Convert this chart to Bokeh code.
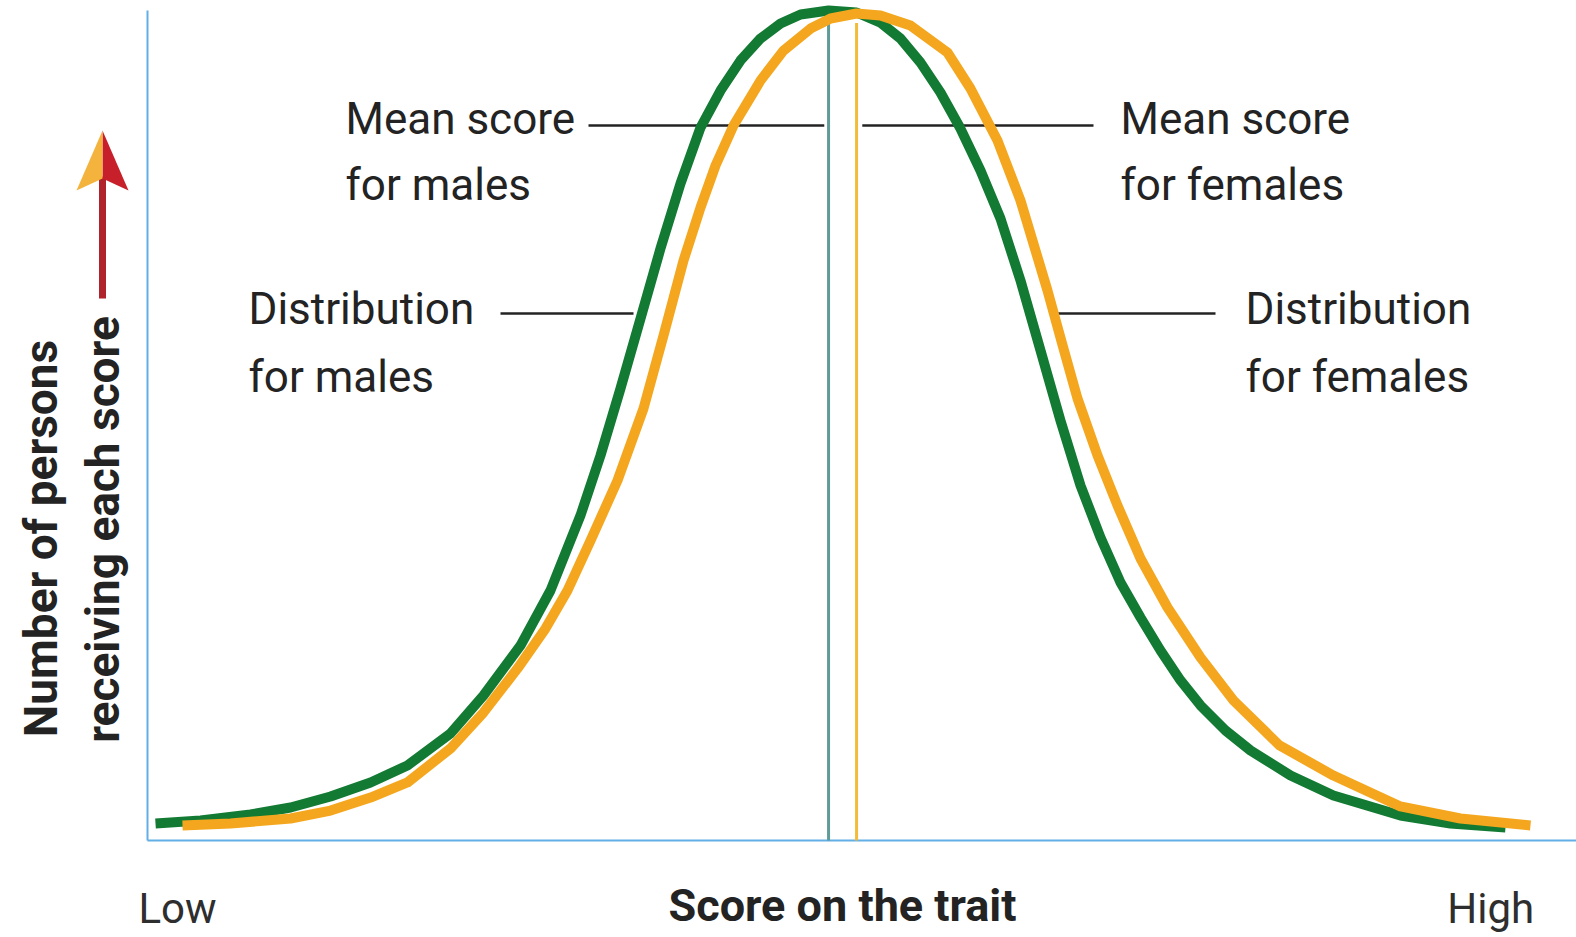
import math
from bokeh.plotting import figure
from bokeh.models import Range1d, Label, Arrow, PolyAnnotation
from bokeh.embed import file_html
from bokeh.resources import INLINE

# ---- data (score 0-100, number of persons 0-100) ----
male_score = [0.56, 3.71, 7.21, 10.01, 12.81, 15.61, 18.19, 21.20, 23.51, 26.10, 28.20,
              30.30, 31.70, 33.10, 34.50, 35.90, 37.30, 38.70, 40.10, 41.50, 42.90,
              44.30, 45.70, 47.66, 49.62, 51.29, 52.69, 54.09, 55.49, 56.89, 58.29,
              59.69, 61.09, 62.49, 63.89, 65.29, 66.69, 68.09, 69.49, 70.89, 72.29,
              73.69, 75.44, 77.19, 79.99, 82.99, 87.68, 91.18, 95.03]
male_count = [2.05, 2.41, 3.13, 3.98, 5.30, 6.99, 9.04, 12.89, 17.47, 23.49, 30.12,
              39.16, 46.39, 54.46, 62.89, 71.33, 79.16, 85.90, 90.36, 93.98, 96.63,
              98.43, 99.52, 100.0, 99.76, 98.55, 96.63, 93.73, 90.12, 85.78, 80.72,
              74.94, 67.47, 59.04, 50.60, 42.77, 36.51, 31.08, 26.87, 22.89, 19.28,
              16.27, 13.25, 10.84, 7.83, 5.42, 3.01, 2.05, 1.57]
female_score = [2.45, 5.81, 10.01, 12.81, 15.61, 18.19, 21.20, 23.51, 25.89, 27.85,
                29.39, 31.00, 32.89, 34.71, 36.11, 37.51, 38.70, 39.75, 41.01, 42.90,
                44.51, 46.40, 47.80, 49.62, 51.29, 53.39, 55.98, 57.59, 59.48, 61.09,
                62.98, 64.04, 65.08, 66.48, 67.88, 69.49, 71.38, 73.69, 76.00, 79.22,
                82.99, 87.68, 91.88, 96.78]
female_count = [1.81, 2.05, 2.65, 3.61, 5.18, 6.99, 11.08, 15.42, 20.72, 25.54,
                30.12, 36.14, 43.37, 52.05, 60.84, 69.88, 76.27, 81.33, 86.14, 91.57,
                95.18, 97.83, 99.04, 99.64, 99.40, 98.19, 94.94, 90.60, 84.34, 77.11,
                66.27, 59.64, 53.25, 46.39, 40.36, 33.98, 28.07, 22.05, 16.87, 11.45,
                7.83, 4.10, 2.65, 1.81]
mean_male = 47.66
mean_female = 49.62
x_tick_positions = [2.1, 94.0]
x_tick_labels = ["Low", "High"]

# ---- layout (the whole canvas is the plot frame; axes drawn at score 0 / count 0) ----
W, H = 1576, 937
X0_PX, Y0_PX = 147, 840          # pixel position of the axis origin
PX_PER_X = (W - X0_PX) / 100.0
PX_PER_Y = (Y0_PX - 10) / 100.0
BASELINE_FIX = 17                # renderer places alphabetic baselines this much lower


def ax(px):
    return (px - X0_PX) / PX_PER_X


def ay(py):
    return (Y0_PX - py) / PX_PER_Y


GREEN = "#137a33"
ORANGE = "#f4a71e"
TEAL = "#5d9c97"
MEANOR = "#f2bb3a"
AXIS = "#62aee6"
INK = "#232323"
FONT = "Roboto"

p = figure(width=W, height=H,
           x_range=Range1d(ax(0), ax(W)), y_range=Range1d(ay(H), ay(0)),
           output_backend="svg", toolbar_location=None,
           x_axis_location=None, y_axis_location=None,
           min_border=0)
p.outline_line_color = None
p.xgrid.visible = False
p.ygrid.visible = False
p.background_fill_color = "white"
p.border_fill_color = "white"

# axis lines
p.segment(x0=[0, 0], y0=[0, 0], x1=[100, 0], y1=[0, 100], line_color=AXIS, line_width=2)

# mean lines
p.segment(x0=[mean_male], y0=[0], x1=[mean_male], y1=[98.5], line_color=TEAL, line_width=3)
p.segment(x0=[mean_female], y0=[0], x1=[mean_female], y1=[98.5], line_color=MEANOR, line_width=3)

# leader lines
lead_y_mean = ay(125)
lead_y_dist = ay(313)
p.segment(x0=[ax(588), mean_female + 0.4, ax(500), ax(1055)],
          y0=[lead_y_mean, lead_y_mean, lead_y_dist, lead_y_dist],
          x1=[mean_male - 0.3, ax(1093), ax(633), ax(1215)],
          y1=[lead_y_mean, lead_y_mean, lead_y_dist, lead_y_dist],
          line_color=INK, line_width=2.5)

# curves
p.line(male_score, male_count, line_color=GREEN, line_width=10, line_join="round")
p.line(female_score, female_count, line_color=ORANGE, line_width=10, line_join="round")


def lab(text, x, py, size="44px", bold=False, align="left", color=INK):
    p.add_layout(Label(x=x, y=ay(py - BASELINE_FIX), text=text, text_font=FONT,
                       text_font_size=size, text_color=color, text_align=align,
                       text_baseline="alphabetic",
                       text_font_style="bold" if bold else "normal"))


lab("Mean score", ax(345), 135)
lab("for males", ax(345), 201)
lab("Distribution", ax(248), 325)
lab("for males", ax(248), 393)
lab("Mean score", ax(1120), 135)
lab("for females", ax(1120), 201)
lab("Distribution", ax(1245), 325)
lab("for females", ax(1245), 393)

# x tick labels and axis title
for t, l in zip(x_tick_positions, x_tick_labels):
    lab(l, t, 925, size="42px", align="center", color="#2e2e2e")
lab("Score on the trait", ax(842), 922, size="45px", bold=True, align="center")

# y axis title (rotated, two lines)
for text, cx, cy in (("Number of persons", 40, 538), ("receiving each score", 102, 529)):
    p.add_layout(Label(x=ax(cx), y=ay(cy), text=text, angle=math.pi / 2,
                       text_font=FONT, text_font_size="46px", text_font_style="bold",
                       text_color=INK, text_align="center", text_baseline="middle"))

# arrow next to the y axis title
p.add_layout(Arrow(x_start=ax(102), y_start=ay(298), x_end=ax(102), y_end=ay(176),
                   end=None, line_color="#b0232a", line_width=7))
p.add_layout(PolyAnnotation(xs=[ax(102), ax(128), ax(102)], ys=[ay(130), ay(190), ay(178)],
                            fill_color="#c8202a", fill_alpha=1, line_color=None))
p.add_layout(PolyAnnotation(xs=[ax(102), ax(76), ax(102)], ys=[ay(130), ay(190), ay(178)],
                            fill_color="#f3b33c", fill_alpha=1, line_color=None))

open("out.html", "w").write(file_html(p, INLINE))
